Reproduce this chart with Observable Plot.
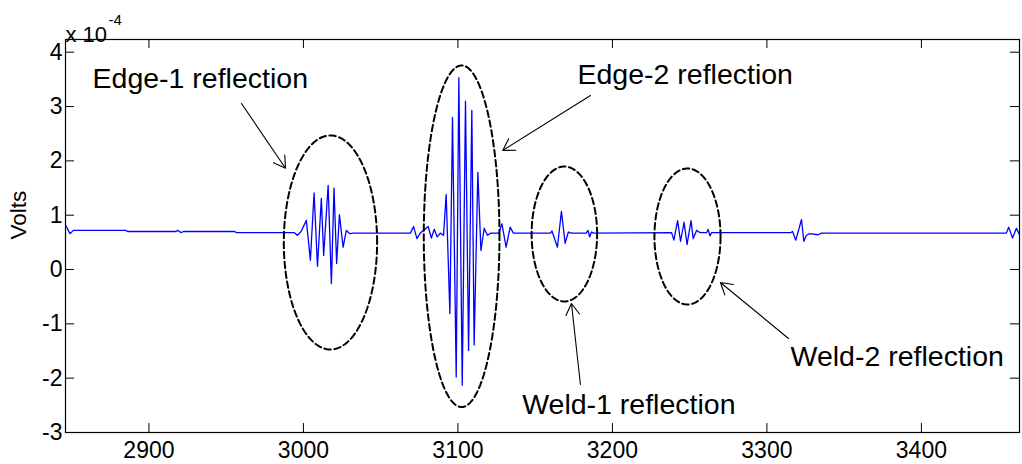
<!DOCTYPE html>
<html><head><meta charset="utf-8">
<script src="https://cdn.jsdelivr.net/npm/d3@7"></script>
<script src="https://cdn.jsdelivr.net/npm/@observablehq/plot@0.6"></script>
<style>
html,body{margin:0;padding:0;background:#fff;}
</style></head><body><div id="chart"></div>
<script>
// ---- data (signal; volts in units of 1e-4) ----
const sampleX = [
  2846.2, 2848.9, 2851.1, 2885.1, 2886.2, 2917.5, 2918.6, 2920.7, 2922.4, 2955.4, 2956.7,
  2994.0, 2996.1, 2998.5, 3001.9, 3004.5, 3006.9, 3009.1, 3011.6, 3013.1, 3016.0, 3018.1,
  3019.8, 3021.5, 3023.3, 3025.7, 3027.8, 3030.0, 3032.5,
  3069.2, 3071.3, 3073.5, 3075.6, 3080.8, 3082.8, 3084.7, 3086.6, 3088.6,
  3090.7, 3092.4, 3094.8, 3096.5, 3098.9, 3100.6, 3102.8, 3104.9, 3106.9, 3109.0, 3110.5,
  3112.9, 3114.9, 3117.0, 3119.1, 3121.5, 3126.5, 3128.5, 3131.2, 3133.8, 3135.9,
  3160.0, 3160.9, 3161.8, 3164.4, 3167.0, 3169.4, 3171.5, 3173.5,
  3183.0, 3184.2, 3185.3, 3186.4, 3187.9,
  3238.3, 3239.8, 3242.2, 3244.1, 3246.4, 3248.3, 3250.9, 3252.3, 3254.5, 3256.6,
  3261.0, 3262.0, 3263.1, 3264.2,
  3315.5, 3316.6, 3318.7, 3322.4, 3323.9, 3325.6, 3327.7, 3333.1, 3335.3,
  3455.0, 3456.5, 3459.0, 3461.5, 3463.5
];
const voltsE4 = [
  0.81, 0.66, 0.72, 0.72, 0.70, 0.70, 0.72, 0.68, 0.70, 0.70, 0.68,
  0.68, 0.63, 0.70, 0.905, 0.17, 1.41, 0.06, 1.31, 0.26, 1.55, -0.26,
  1.50, 0.11, 1.01, 0.41, 0.72, 0.66, 0.67,
  0.67, 0.79, 0.57, 0.67, 0.79, 0.58, 0.74, 0.60, 0.67,
  0.63, 1.38, -0.81, 2.80, -1.98, 3.53, -2.13, 3.10, -1.49, 2.93, -1.39,
  1.79, 0.35, 0.76, 0.63, 0.67, 0.67, 0.84, 0.41, 0.78, 0.67,
  0.67, 0.71, 0.63, 0.41, 1.07, 0.48, 0.69, 0.67,
  0.67, 0.72, 0.60, 0.69, 0.67,
  0.68, 0.54, 0.90, 0.52, 0.87, 0.46, 0.90, 0.57, 0.72, 0.68,
  0.68, 0.74, 0.62, 0.68,
  0.68, 0.70, 0.54, 0.92, 0.52, 0.63, 0.66, 0.64, 0.67,
  0.67, 0.78, 0.58, 0.76, 0.64
];
const xTicks = [2900, 3000, 3100, 3200, 3300, 3400];
const yTicks = [-3, -2, -1, 0, 1, 2, 3, 4];

// annotations
const labelText = ["Edge-1 reflection", "Edge-2 reflection", "Weld-1 reflection", "Weld-2 reflection"];
const labelX = [2863.5, 3177.4, 3141.6, 3315.3];
const labelY = [3.516, 3.59, -2.484, -1.60];
const arrowX1 = [2959.9, 3185.8, 3179.3, 3314.0];
const arrowY1 = [3.056, 3.203, -2.116, -1.269];
const arrowX2 = [2988.4, 3129.0, 3173.5, 3269.9];
const arrowY2 = [1.865, 2.191, -0.625, -0.239];
const ellipseCX = [3017.5, 3102.4, 3168.9, 3248.6];
const ellipseCY = [0.498, 0.612, 0.654, 0.608];
const ellipseRX = [30.2, 24.5, 21.2, 21.4];
const ellipseRY = [1.97, 3.144, 1.242, 1.252];

// ---- build ----
const W = 1022, H = 464, mL = 65, mR = 3, mT = 39, mB = 32;
const frameW = W - mL - mR, frameH = H - mT - mB;
const signal = sampleX.map((x, i) => ({x, y: voltsE4[i]}));
const labels = labelText.map((t, i) => ({t, x: labelX[i], y: labelY[i]}));
const arrows = arrowX1.map((x1, i) => ({x1, y1: arrowY1[i], x2: arrowX2[i], y2: arrowY2[i]}));
const ellipsePts = [];
ellipseCX.forEach((cx, k) => {
  for (let j = 0; j <= 160; j++) {
    const t = 2 * Math.PI * j / 160;
    ellipsePts.push({k, x: cx + ellipseRX[k] * Math.cos(t), y: ellipseCY[k] + ellipseRY[k] * Math.sin(t)});
  }
});

const chart = Plot.plot({
  width: W, height: H,
  marginLeft: mL, marginRight: mR, marginTop: mT, marginBottom: mB,
  style: {fontFamily: "'Liberation Sans', Arial, sans-serif", fontSize: "23px", color: "#000", background: "#fff", overflow: "visible"},
  x: {domain: [2846, 3463.5], label: null},
  y: {domain: [-3, 4.234], label: null},
  marks: [
    Plot.line(signal, {x: "x", y: "y", stroke: "#0000ff", strokeWidth: 1.3}),
    Plot.line(ellipsePts, {x: "x", y: "y", z: "k", stroke: "#000", strokeWidth: 2, strokeDasharray: "6.5,3.5"}),
    Plot.arrow(arrows, {x1: "x1", y1: "y1", x2: "x2", y2: "y2", stroke: "#000", strokeWidth: 1.1, headLength: 18, headAngle: 62}),
    Plot.text(labels, {x: "x", y: "y", text: "t", textAnchor: "start", fontSize: 28.5, fill: "#000"}),
    Plot.tickX(xTicks, {x: d => d, insetTop: frameH - 9, stroke: "#000"}),
    Plot.tickX(xTicks, {x: d => d, insetBottom: frameH - 9, stroke: "#000"}),
    Plot.tickY(yTicks, {y: d => d, insetRight: frameW - 9, stroke: "#000"}),
    Plot.tickY(yTicks, {y: d => d, insetLeft: frameW - 9, stroke: "#000"}),
    Plot.axisX(xTicks, {anchor: "bottom", tickSize: 0, tickPadding: 9, fontSize: 23, tickFormat: d => String(d), label: null}),
    Plot.axisY(yTicks, {anchor: "left", tickSize: 0, tickPadding: 3, fontSize: 23, tickFormat: d => String(d), label: null}),
    Plot.frame({stroke: "#000", strokeWidth: 1.2}),
    Plot.text(["x 10"], {text: d => d, frameAnchor: "top-left", textAnchor: "start", dy: -12.7, fontSize: 22, fill: "#000"}),
    Plot.text(["-4"], {text: d => d, frameAnchor: "top-left", textAnchor: "start", dx: 43, dy: -25.5, fontSize: 15, fill: "#000"}),
    Plot.text(["Volts"], {text: d => d, frameAnchor: "left", rotate: -90, dx: -47, dy: 3.5, fontSize: 22.5, fill: "#000"})
  ]
});
document.getElementById("chart").appendChild(chart);
</script>
</body></html>
